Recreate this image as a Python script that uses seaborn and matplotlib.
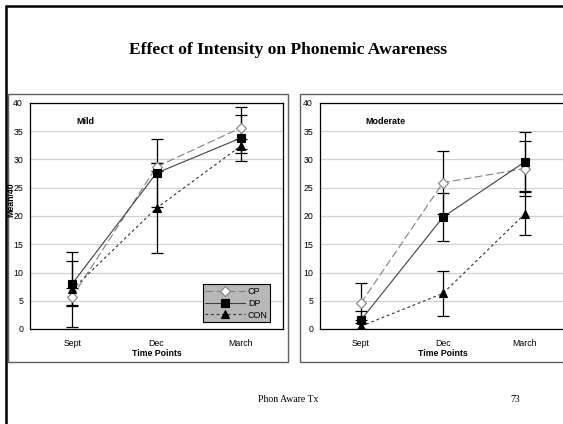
import numpy as np
import pandas as pd
import matplotlib
matplotlib.use("Agg")
import matplotlib.pyplot as plt
from matplotlib.patches import Rectangle
from matplotlib.lines import Line2D
import seaborn as sns

# data
time_points = ["Sept", "Dec", "March"]
series = ["CP", "DP", "CON"]

mild_cp = [5.7, 28.7, 35.6]
mild_dp = [8.0, 27.6, 33.8]
mild_con = [7.0, 21.4, 32.4]
mild_cp_err = [1.5, 0.7, 3.7]
mild_dp_err = [4.0, 6.0, 4.0]
mild_con_err = [6.6, 7.9, 1.2]

mod_cp = [4.6, 25.9, 28.4]
mod_dp = [1.6, 19.8, 29.6]
mod_con = [0.5, 6.3, 20.4]
mod_cp_err = [3.5, 5.6, 4.9]
mod_dp_err = [1.6, 4.3, 5.2]
mod_con_err = [1.1, 4.0, 3.8]

sns.set_theme(style="white")
plt.rcParams['font.family'] = ['Liberation Sans', 'DejaVu Sans']
plt.rcParams['text.color'] = 'black'
plt.rcParams['xtick.color'] = 'black'
plt.rcParams['ytick.color'] = 'black'
plt.rcParams['axes.labelcolor'] = 'black'

styles = {
    "CP": dict(color="#808080", marker="D", mfc="white", mec="#808080", dashes=(7, 3), ms=5.5),
    "DP": dict(color="#404040", marker="s", mfc="black", mec="black", dashes=None, ms=6),
    "CON": dict(color="#303030", marker="^", mfc="black", mec="black", dashes=(2.5, 2.5), ms=5.5),
}

fig = plt.figure(figsize=(5.63, 4.24), dpi=100)
W, H = 563, 424


def fx(px):
    return px / W


def fy(py):
    return 1 - py / H


# slide frame (cut at right and bottom)
fig.add_artist(Line2D([fx(6), fx(6)], [fy(6), 0], color="black", lw=1.8, transform=fig.transFigure))
fig.add_artist(Line2D([fx(6), 1], [fy(6), fy(6)], color="black", lw=1.8, transform=fig.transFigure))

# chart boxes
for x0, x1 in [(8, 288), (300, 570)]:
    fig.add_artist(Rectangle((fx(x0), fy(362)), fx(x1 - x0), (362 - 94) / H, transform=fig.transFigure,
                             fill=False, edgecolor="#606060", lw=1.0))

fig.text(fx(288), fy(50), "Effect of Intensity on Phonemic Awareness", ha="center", va="center",
         fontsize=12.6, fontweight="bold", family="Liberation Serif")
fig.text(fx(288), fy(400), "Phon Aware Tx", ha="center", va="center", fontsize=7, family="Liberation Serif")
fig.text(fx(515), fy(400), "73", ha="center", va="center", fontsize=7, family="Liberation Serif")

panels = [
    ("Mild", [30, 283], {"CP": (mild_cp, mild_cp_err), "DP": (mild_dp, mild_dp_err), "CON": (mild_con, mild_con_err)}),
    ("Moderate", [320, 566], {"CP": (mod_cp, mod_cp_err), "DP": (mod_dp, mod_dp_err), "CON": (mod_con, mod_con_err)}),
]

axes = []
for name, (x0, x1), data in panels:
    ax = fig.add_axes([fx(x0), fy(329), fx(x1 - x0), (329 - 103) / H])
    axes.append(ax)
    xs = np.arange(len(time_points))
    for s in series:
        vals, errs = data[s]
        st = styles[s]
        df = pd.DataFrame({"x": xs, "y": vals})
        kws = dict(x="x", y="y", data=df, ax=ax, color=st["color"], lw=0.8, marker=st["marker"],
                   markersize=st["ms"], markerfacecolor=st["mfc"], markeredgecolor=st["mec"],
                   markeredgewidth=0.8, label=s, zorder=3)
        if st["dashes"] is not None:
            kws["dashes"] = st["dashes"]
        sns.lineplot(**kws)
        ax.errorbar(xs, vals, yerr=errs, fmt="none", ecolor="black", elinewidth=0.9, capsize=4,
                    capthick=0.9, zorder=2)
    ax.set_xlim(-0.5, 2.5)
    ax.set_ylim(0, 40)
    ax.set_yticks(range(0, 41, 5))
    ax.set_xticks(xs)
    ax.set_xticklabels(time_points)
    ax.set_xticks([0.5, 1.5], minor=True)
    ax.tick_params(axis="x", which="major", length=0, labelsize=6.3, pad=7)
    ax.tick_params(axis="x", which="minor", length=4, width=0.8, direction="out", color="black")
    ax.tick_params(axis="y", length=3, width=0.8, direction="out", color="black", labelsize=6.3, pad=2)
    ax.grid(axis="y", color="#d0d0d0", lw=0.9)
    ax.set_axisbelow(True)
    for sp in ax.spines.values():
        sp.set_color("black")
        sp.set_linewidth(0.9)
    ax.set_xlabel("")
    ax.set_ylabel("")
    ax.text(0.185, 0.92, name, transform=ax.transAxes, ha="left", va="center", fontsize=6.5,
            fontweight="bold")
    if ax.get_legend() is not None:
        ax.get_legend().remove()
    fig.text(fx((x0 + x1) / 2), fy(353), "Time Points", ha="center", va="center", fontsize=6.3,
             fontweight="bold")

leg = axes[0].legend(loc="lower right", bbox_to_anchor=(0.95, 0.03), fontsize=6.5, frameon=True,
                     fancybox=False, handlelength=4.4, borderpad=0.3, labelspacing=0.3,
                     handletextpad=0.3, borderaxespad=0)
leg.get_frame().set_facecolor("#b8b8b8")
leg.get_frame().set_edgecolor("black")
leg.get_frame().set_linewidth(0.8)
leg.get_frame().set_alpha(1)

fig.text(fx(11), fy(200), "Mean/40", rotation=90, ha="center", va="center", fontsize=6.3, fontweight="bold")

fig.savefig("out.png", dpi=100, facecolor="white")
